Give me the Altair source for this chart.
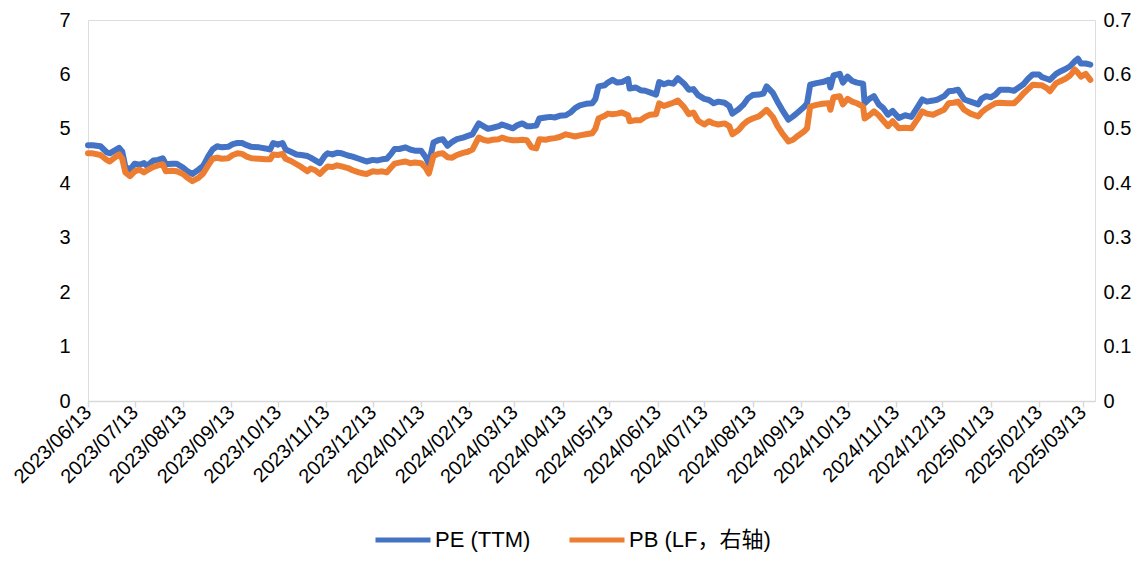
import altair as alt
import pandas as pd

dates = [
    "2023/06/13","2023/06/16","2023/06/21","2023/06/25","2023/06/27","2023/06/30","2023/07/03","2023/07/05",
    "2023/07/07","2023/07/10","2023/07/13","2023/07/16","2023/07/19","2023/07/21","2023/07/25","2023/07/28",
    "2023/07/31","2023/08/02","2023/08/06","2023/08/09","2023/08/13","2023/08/16","2023/08/19","2023/08/23",
    "2023/08/26","2023/08/29","2023/09/01","2023/09/04","2023/09/07","2023/09/11","2023/09/14","2023/09/17",
    "2023/09/20","2023/09/23","2023/09/26","2023/10/01","2023/10/05","2023/10/08","2023/10/10","2023/10/13",
    "2023/10/16","2023/10/18","2023/10/22","2023/10/25","2023/10/28","2023/11/01","2023/11/03","2023/11/06",
    "2023/11/09","2023/11/12","2023/11/14","2023/11/17","2023/11/20","2023/11/23","2023/11/27","2023/11/30",
    "2023/12/04","2023/12/07","2023/12/09","2023/12/13","2023/12/16","2023/12/19","2023/12/22","2023/12/25",
    "2023/12/27","2023/12/30","2024/01/03","2024/01/06","2024/01/09","2024/01/13","2024/01/16","2024/01/18",
    "2024/01/21","2024/01/24","2024/01/27","2024/01/30","2024/02/02","2024/02/05","2024/02/09","2024/02/12",
    "2024/02/15","2024/02/19","2024/02/22","2024/02/25","2024/02/28","2024/03/03","2024/03/05","2024/03/08",
    "2024/03/12","2024/03/15","2024/03/18","2024/03/21","2024/03/24","2024/03/27","2024/03/29","2024/04/02",
    "2024/04/05","2024/04/08","2024/04/11","2024/04/15","2024/04/18","2024/04/21","2024/04/24","2024/04/28",
    "2024/05/02","2024/05/04","2024/05/06","2024/05/10","2024/05/12","2024/05/15","2024/05/18","2024/05/21",
    "2024/05/25","2024/05/26","2024/05/30","2024/06/02","2024/06/05","2024/06/08","2024/06/12","2024/06/14",
    "2024/06/17","2024/06/20","2024/06/23","2024/06/26","2024/06/30","2024/07/03","2024/07/06","2024/07/09",
    "2024/07/13","2024/07/16","2024/07/19","2024/07/22","2024/07/26","2024/07/29","2024/07/31","2024/08/04",
    "2024/08/07","2024/08/10","2024/08/13","2024/08/17","2024/08/20","2024/08/22","2024/08/26","2024/08/29",
    "2024/09/01","2024/09/05","2024/09/08","2024/09/11","2024/09/15","2024/09/17","2024/09/19","2024/09/23",
    "2024/09/27","2024/10/01","2024/10/02","2024/10/04","2024/10/08","2024/10/10","2024/10/13","2024/10/16",
    "2024/10/19","2024/10/23","2024/10/24","2024/10/27","2024/10/30","2024/11/02","2024/11/05","2024/11/08",
    "2024/11/11","2024/11/15","2024/11/19","2024/11/23","2024/11/27","2024/11/30","2024/12/03","2024/12/07",
    "2024/12/10","2024/12/14","2024/12/17","2024/12/20","2024/12/23","2024/12/27","2024/12/31","2025/01/05",
    "2025/01/07","2025/01/10","2025/01/13","2025/01/16","2025/01/19","2025/01/24","2025/01/28","2025/01/31",
    "2025/02/03","2025/02/06","2025/02/09","2025/02/13","2025/02/15","2025/02/18","2025/02/20","2025/02/24",
    "2025/02/27","2025/03/02","2025/03/05","2025/03/08","2025/03/10","2025/03/12","2025/03/15","2025/03/18",
]

pe_ttm = [
    4.70,4.70,4.68,4.57,4.55,4.60,4.65,4.58,
    4.30,4.25,4.36,4.34,4.37,4.32,4.42,4.43,
    4.46,4.35,4.36,4.36,4.29,4.22,4.17,4.25,
    4.32,4.48,4.62,4.68,4.66,4.67,4.72,4.74,
    4.74,4.70,4.67,4.66,4.64,4.62,4.74,4.71,
    4.74,4.62,4.57,4.53,4.52,4.50,4.47,4.42,
    4.37,4.50,4.55,4.53,4.56,4.55,4.51,4.49,
    4.45,4.42,4.40,4.43,4.42,4.44,4.45,4.55,
    4.63,4.63,4.66,4.62,4.60,4.60,4.48,4.36,
    4.75,4.79,4.81,4.69,4.76,4.81,4.84,4.87,
    4.90,5.10,5.05,5.00,5.02,5.05,5.08,5.05,
    5.01,5.07,5.10,5.05,5.05,5.06,5.19,5.21,
    5.22,5.21,5.24,5.25,5.30,5.38,5.43,5.46,
    5.47,5.55,5.78,5.80,5.85,5.90,5.85,5.86,
    5.92,5.74,5.76,5.71,5.70,5.67,5.63,5.86,
    5.82,5.85,5.83,5.93,5.83,5.72,5.73,5.62,
    5.55,5.53,5.47,5.50,5.48,5.42,5.28,5.36,
    5.44,5.56,5.62,5.63,5.65,5.78,5.66,5.50,
    5.35,5.17,5.23,5.30,5.40,5.47,5.81,5.84,
    5.86,5.90,5.76,5.98,6.01,5.85,5.96,5.88,
    5.85,5.83,5.47,5.55,5.60,5.45,5.38,5.26,
    5.33,5.20,5.25,5.22,5.40,5.54,5.50,5.52,
    5.54,5.60,5.69,5.70,5.72,5.54,5.50,5.45,
    5.55,5.60,5.58,5.63,5.72,5.72,5.70,5.76,
    5.82,5.92,6.00,6.00,5.95,5.92,5.90,6.01,
    6.06,6.10,6.15,6.24,6.29,6.20,6.20,6.18,
]

pb_lf = [
    0.455,0.455,0.452,0.443,0.440,0.447,0.453,0.445,
    0.420,0.413,0.422,0.425,0.420,0.424,0.430,0.433,
    0.435,0.422,0.423,0.422,0.417,0.410,0.404,0.410,
    0.418,0.432,0.445,0.447,0.445,0.446,0.452,0.455,
    0.454,0.449,0.446,0.445,0.444,0.444,0.453,0.452,
    0.454,0.445,0.440,0.435,0.430,0.422,0.427,0.424,
    0.417,0.426,0.431,0.430,0.433,0.431,0.428,0.424,
    0.420,0.418,0.417,0.422,0.421,0.422,0.420,0.430,
    0.436,0.438,0.440,0.437,0.438,0.437,0.428,0.418,
    0.450,0.454,0.455,0.448,0.447,0.452,0.456,0.458,
    0.462,0.484,0.480,0.478,0.480,0.481,0.484,0.481,
    0.479,0.479,0.480,0.479,0.466,0.464,0.481,0.480,
    0.482,0.483,0.485,0.490,0.488,0.486,0.488,0.490,
    0.492,0.500,0.519,0.524,0.528,0.527,0.528,0.530,
    0.525,0.514,0.516,0.516,0.522,0.526,0.527,0.547,
    0.542,0.545,0.548,0.552,0.540,0.527,0.530,0.515,
    0.508,0.514,0.510,0.508,0.510,0.505,0.490,0.498,
    0.508,0.515,0.519,0.523,0.530,0.535,0.522,0.505,
    0.492,0.477,0.480,0.487,0.495,0.501,0.541,0.544,
    0.546,0.547,0.535,0.558,0.560,0.545,0.555,0.550,
    0.547,0.541,0.519,0.525,0.532,0.525,0.515,0.505,
    0.514,0.501,0.502,0.501,0.518,0.532,0.528,0.526,
    0.530,0.535,0.547,0.548,0.550,0.535,0.528,0.523,
    0.530,0.537,0.542,0.547,0.548,0.547,0.547,0.555,
    0.565,0.573,0.581,0.580,0.580,0.575,0.569,0.584,
    0.588,0.592,0.598,0.609,0.603,0.596,0.601,0.590,
]

tick_dates = [
    (2023, 6), (2023, 7), (2023, 8), (2023, 9), (2023, 10), (2023, 11), (2023, 12),
    (2024, 1), (2024, 2), (2024, 3), (2024, 4), (2024, 5), (2024, 6), (2024, 7),
    (2024, 8), (2024, 9), (2024, 10), (2024, 11), (2024, 12), (2025, 1), (2025, 2), (2025, 3),
]

series_names = ["PE (TTM)", "PB (LF，右轴)"]
series_colors = ["#4472C4", "#ED7D31"]

df = pd.DataFrame({"date": dates, "pe": pe_ttm, "pb": pb_lf})

FONT = "Liberation Sans, Noto Sans CJK SC, sans-serif"

x_enc = alt.X(
    "date:T",
    scale=alt.Scale(domain=[alt.DateTime(year=2023, month=6, date=13),
                            alt.DateTime(year=2025, month=3, date=21)]),
    axis=alt.Axis(
        title=None,
        values=[alt.DateTime(year=y, month=m, date=13) for y, m in tick_dates],
        format="%Y/%m/%d",
        labelAngle=-45,
        labelAlign="right",
        labelBaseline="middle",
        labelFont=FONT,
        labelFontSize=20,
        labelColor="#000000",
        labelPadding=2,
        labelOverlap=False,
        domainColor="#d9d9d9",
        domainWidth=1.5,
        tickColor="#d9d9d9",
        tickWidth=1.5,
        tickSize=6,
        grid=False,
    ),
)

color_scale = alt.Scale(domain=series_names, range=series_colors)

pe_line = alt.Chart(df).mark_line(strokeWidth=6, strokeJoin="round", strokeCap="round").encode(
    x=x_enc,
    y=alt.Y(
        "pe:Q",
        scale=alt.Scale(domain=[0, 7]),
        axis=alt.Axis(
            title=None, values=list(range(0, 8)), orient="left",
            domain=False, ticks=False, grid=False,
            labelFont=FONT, labelFontSize=20, labelColor="#000000", labelPadding=18,
        ),
    ),
    color=alt.Color(
        "s:N", scale=color_scale,
        legend=alt.Legend(
            title=None, orient="none", legendX=285, legendY=490, direction="horizontal",
            symbolType="stroke", symbolStrokeWidth=5, symbolSize=3025,
            labelFont=FONT, labelFontSize=22, labelColor="#000000",
            labelOffset=2, columnPadding=28,
        ),
    ),
).transform_calculate(s=f"'{series_names[0]}'")

pb_line = alt.Chart(df).mark_line(strokeWidth=6, strokeJoin="round", strokeCap="round").encode(
    x=x_enc,
    y=alt.Y(
        "pb:Q",
        scale=alt.Scale(domain=[0, 0.7]),
        axis=alt.Axis(
            title=None, values=[0, 0.1, 0.2, 0.3, 0.4, 0.5, 0.6, 0.7], orient="right",
            format=".1~f", domain=False, ticks=False, grid=False,
            labelFont=FONT, labelFontSize=20, labelColor="#000000", labelPadding=8,
        ),
    ),
    color=alt.Color("s:N", scale=color_scale),
).transform_calculate(s=f"'{series_names[1]}'")

chart = (
    alt.layer(pe_line, pb_line)
    .resolve_scale(y="independent")
    .properties(
        width=1007, height=381,
        autosize=alt.AutoSizeParams(type="none"),
        padding={"left": 80, "top": 12, "right": 45, "bottom": 154},
    )
    .configure_view(stroke=None)
    .configure(background="white")
)

chart.save("out.html", embed_options={"renderer": "svg", "actions": False})
